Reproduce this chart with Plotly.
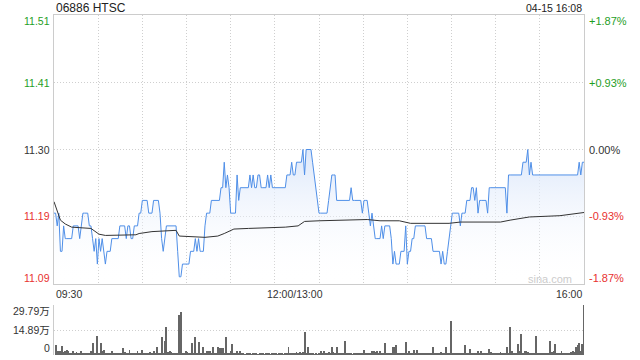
import plotly.graph_objects as go

# ---------------- data ----------------
title_text = "06886 HTSC"
stamp_text = "04-15 16:08"
prev_close = 11.30

# one price per trading minute (0 = 09:30, 150 = 12:00/13:00, 330 = 16:00)
price = [
    11.20, 11.20, 11.18, 11.20, 11.14, 11.14, 11.18, 11.16, 11.16, 11.16,
    11.16, 11.16, 11.18, 11.18, 11.18, 11.18, 11.16, 11.18, 11.20, 11.20,
    11.20, 11.20, 11.18, 11.18, 11.16, 11.14, 11.16, 11.12, 11.16, 11.14,
    11.16, 11.14, 11.12, 11.14, 11.14, 11.14, 11.16, 11.16, 11.16, 11.16,
    11.16, 11.18, 11.18, 11.18, 11.18, 11.16, 11.18, 11.18, 11.16, 11.16,
    11.18, 11.18, 11.18, 11.20, 11.20, 11.22, 11.22, 11.22, 11.22, 11.20,
    11.20, 11.20, 11.22, 11.22, 11.22, 11.22, 11.20, 11.16, 11.14, 11.16,
    11.18, 11.18, 11.18, 11.18, 11.18, 11.18, 11.18, 11.14, 11.10, 11.10,
    11.12, 11.12, 11.12, 11.12, 11.12, 11.14, 11.14, 11.14, 11.16, 11.14,
    11.16, 11.14, 11.14, 11.14, 11.18, 11.20, 11.20, 11.20, 11.22, 11.22,
    11.22, 11.22, 11.22, 11.22, 11.24, 11.24, 11.28, 11.24, 11.26, 11.24,
    11.20, 11.20, 11.20, 11.20, 11.26, 11.22, 11.24, 11.24, 11.24, 11.24,
    11.24, 11.24, 11.26, 11.24, 11.26, 11.24, 11.24, 11.26, 11.26, 11.24,
    11.24, 11.24, 11.24, 11.26, 11.24, 11.26, 11.24, 11.24, 11.24, 11.24,
    11.24, 11.24, 11.24, 11.24, 11.24, 11.26, 11.26, 11.26, 11.28, 11.26,
    11.26, 11.28, 11.28, 11.28, 11.28, 11.30, 11.26, 11.30, 11.30, 11.30,
    11.30, 11.28, 11.26, 11.24, 11.22, 11.20, 11.20, 11.20, 11.20, 11.20,
    11.20, 11.22, 11.24, 11.26, 11.26, 11.26, 11.22, 11.22, 11.22, 11.22,
    11.22, 11.22, 11.22, 11.22, 11.22, 11.24, 11.22, 11.22, 11.22, 11.22,
    11.22, 11.22, 11.20, 11.22, 11.22, 11.22, 11.20, 11.18, 11.20, 11.18,
    11.16, 11.16, 11.16, 11.16, 11.18, 11.16, 11.18, 11.18, 11.18, 11.18,
    11.16, 11.12, 11.14, 11.12, 11.12, 11.12, 11.14, 11.14, 11.14, 11.18,
    11.12, 11.14, 11.14, 11.16, 11.16, 11.18, 11.18, 11.18, 11.18, 11.18,
    11.18, 11.18, 11.16, 11.16, 11.16, 11.16, 11.14, 11.14, 11.14, 11.14,
    11.14, 11.12, 11.14, 11.12, 11.12, 11.14, 11.16, 11.18, 11.20, 11.20,
    11.20, 11.20, 11.20, 11.18, 11.20, 11.20, 11.20, 11.22, 11.22, 11.22,
    11.24, 11.24, 11.22, 11.24, 11.20, 11.22, 11.22, 11.22, 11.22, 11.22,
    11.20, 11.24, 11.24, 11.24, 11.24, 11.24, 11.24, 11.24, 11.24, 11.24,
    11.24, 11.24, 11.20, 11.26, 11.26, 11.26, 11.26, 11.26, 11.26, 11.26,
    11.26, 11.26, 11.28, 11.28, 11.28, 11.30, 11.26, 11.28, 11.26, 11.26,
    11.26, 11.26, 11.26, 11.26, 11.26, 11.26, 11.26, 11.26, 11.26, 11.26,
    11.26, 11.26, 11.26, 11.26, 11.26, 11.26, 11.26, 11.26, 11.26, 11.26,
    11.26, 11.26, 11.26, 11.26, 11.26, 11.26, 11.26, 11.28, 11.26, 11.28,
    11.28,
]

# average-price line, read at its turning points (minute, price)
avg_minute = [0, 2, 4, 7, 11, 23, 28, 32, 40, 51, 53, 61, 76, 78, 94, 102, 106,
              112, 121, 144, 152, 156, 165, 195, 203, 215, 222, 246, 253, 278,
              284, 296, 315, 330]
avg_price = [11.218, 11.204, 11.189, 11.183, 11.178, 11.176, 11.167, 11.165,
             11.165, 11.166, 11.168, 11.171, 11.173, 11.164, 11.162, 11.164,
             11.168, 11.175, 11.176, 11.178, 11.180, 11.187, 11.188, 11.190,
             11.188, 11.188, 11.184, 11.184, 11.186, 11.186, 11.189, 11.194,
             11.196, 11.201]

# volume per minute, in 万 shares
volume = [
    0, 6.2, 2.6, 2.6, 2.6, 5.6, 1.6, 2.6, 3.2, 2.2,
    0.8, 1.0, 2.6, 0.8, 1.6, 0.6, 0.8, 2.2, 0.6, 1.0,
    0.6, 0.6, 0.6, 2.6, 7.0, 1.0, 0.6, 11.1, 1.0, 7.0,
    2.6, 3.2, 0.8, 1.0, 0.6, 0.6, 2.6, 0.8, 0.6, 1.0,
    0.8, 0.6, 0.6, 4.2, 1.6, 0.6, 0.6, 3.2, 1.2, 0.6,
    0.6, 0.6, 2.2, 1.2, 0.6, 3.2, 0.8, 0.6, 0.6, 0.8,
    1.6, 0.6, 2.6, 0.6, 5.0, 0.8, 0.6, 10.6, 1.2, 8.3,
    16.7, 1.6, 2.2, 1.6, 0.8, 0.6, 0.6, 0.6, 23.7, 25.4,
    0.6, 0.6, 2.6, 1.6, 1.2, 0.6, 7.0, 0.8, 10.6, 1.2,
    7.6, 1.2, 0.8, 5.0, 0.6, 2.2, 2.2, 2.2, 0.8, 5.0,
    1.0, 0.8, 4.6, 4.0, 4.0, 4.0, 0.8, 10.6, 1.2, 0.6,
    2.6, 6.4, 0.6, 0.6, 2.6, 0.8, 2.6, 0.8, 0.6, 0.5,
    0.7, 0.6, 0.9, 0.5, 0.6, 0.8, 0.6, 0.5, 0.7, 0.6,
    0.8, 0.5, 0.6, 0.9, 0.6, 0.5, 0.7, 0.6, 0.8, 0.5,
    0.6, 0.7, 0.6, 0.5, 0.8, 0.6, 4.6, 0.6, 0.6, 0.8,
    0.6, 1.6, 1.2, 1.6, 1.2, 2.0, 13.7, 1.2, 4.6, 0.6,
    0.6, 0.6, 0.5, 0.6, 0.5, 0.8, 2.6, 0.6, 2.2, 0.6,
    0.6, 1.6, 0.6, 5.0, 1.6, 0.6, 4.6, 1.2, 0.6, 0.6,
    0.6, 8.3, 0.6, 0.8, 0.6, 0.6, 0.5, 0.8, 0.6, 1.0,
    1.2, 0.6, 0.8, 3.2, 0.8, 0.6, 1.2, 0.6, 2.2, 2.6,
    1.6, 2.6, 0.6, 2.6, 0.8, 0.6, 7.0, 1.2, 0.8, 0.6,
    1.2, 4.6, 5.0, 6.2, 0.8, 0.8, 0.6, 0.6, 0.6, 7.6,
    0.6, 2.6, 0.6, 0.6, 3.2, 0.6, 2.8, 0.6, 0.8, 0.6,
    1.2, 0.6, 0.6, 0.6, 0.6, 0.6, 4.6, 0.8, 0.6, 0.6,
    0.6, 1.6, 0.6, 0.6, 5.0, 0.6, 0.6, 20.0, 1.2, 0.8,
    1.2, 0.6, 0.8, 0.6, 0.6, 0.6, 6.2, 0.8, 0.6, 3.6,
    1.2, 0.8, 0.6, 0.6, 2.2, 0.8, 2.2, 0.6, 0.8, 0.6,
    0.6, 3.6, 1.6, 0.8, 1.0, 0.6, 0.6, 0.6, 1.6, 0.8,
    0.6, 1.2, 4.6, 0.6, 16.7, 2.2, 1.2, 0.8, 0.6, 6.4,
    2.6, 12.5, 1.2, 2.6, 2.6, 2.0, 0.8, 0.6, 0.6, 1.2,
    11.1, 0.6, 0.6, 0.6, 0.6, 0.8, 0.6, 0.6, 0.6, 8.3,
    1.6, 2.2, 6.4, 0.8, 0.6, 0.6, 2.2, 0.6, 0.8, 1.2,
    0.6, 0.6, 1.6, 2.6, 1.6, 4.6, 6.2, 7.0, 2.6, 6.4,
    29.79,
]

# axis labels
pct_levels = [1.87, 0.93, 0.0, -0.93, -1.87]
price_tick_labels = ["11.51", "11.41", "11.30", "11.19", "11.09"]
pct_tick_labels = ["+1.87%", "+0.93%", "0.00%", "-0.93%", "-1.87%"]
vol_tick_values = [29.79, 14.89, 0]
vol_tick_labels = ["29.79万", "14.89万", "0"]
time_tick_minutes = [0, 150, 330]
time_tick_labels = ["09:30", "12:00/13:00", "16:00"]
session_minutes = 330

# ---------------- figure ----------------
FONT = "Liberation Sans, Arial, Noto Sans CJK SC, sans-serif"
GREEN = "#1f9e1f"
RED = "#e8312f"
DARK = "#333333"
GRID = "#cfcfcf"

minutes = list(range(len(price)))
lvl_prices = [prev_close * (1 + p / 100) for p in pct_levels]
y_lo, y_hi = min(lvl_prices), max(lvl_prices)

fig = go.Figure()
fig.add_trace(go.Scatter(
    x=minutes, y=price, mode="lines", xaxis="x", yaxis="y",
    line=dict(color="#4f8fe8", width=1),
    fill="tozeroy",
    fillgradient=dict(type="vertical",
                      colorscale=[[0, "rgba(255,255,255,0)"], [1, "rgba(218,230,250,0.95)"]],
                      start=y_lo, stop=prev_close),
    hoverinfo="skip", showlegend=False,
))
fig.add_trace(go.Scatter(
    x=avg_minute, y=avg_price, mode="lines", xaxis="x", yaxis="y",
    line=dict(color="#333333", width=1), hoverinfo="skip", showlegend=False,
))
fig.add_trace(go.Bar(
    x=minutes, y=volume, xaxis="x2", yaxis="y2", width=0.6,
    marker=dict(color="#666666", line=dict(width=0)),
    hoverinfo="skip", showlegend=False,
))

H, T, B = 360, 15, 5
plot_h = H - T - B
main_bottom_px, vol_top_px = 284, 305
main_dom = [(H - B - main_bottom_px) / plot_h, 1]
vol_dom = [0, (H - B - vol_top_px) / plot_h]

fig.update_layout(
    width=640, height=360,
    margin=dict(l=54, r=56, t=T, b=B),
    paper_bgcolor="white", plot_bgcolor="white",
    font=dict(family=FONT, size=11, color=DARK),
    bargap=0,
    hovermode=False,
    xaxis=dict(domain=[0, 1], range=[0, session_minutes], anchor="y",
               tick0=0, dtick=session_minutes / 12, showticklabels=False, ticks="",
               showgrid=True, gridcolor=GRID, griddash="1px,2px", gridwidth=1,
               showline=True, linecolor="#cccccc", linewidth=1, mirror=True,
               zeroline=False, fixedrange=True),
    yaxis=dict(domain=main_dom, range=[y_lo, y_hi], anchor="x",
               tickvals=lvl_prices[1:4], showticklabels=False, ticks="",
               showgrid=True, gridcolor=GRID, griddash="1px,2px", gridwidth=1,
               showline=True, linecolor="#cccccc", linewidth=1, mirror=True,
               zeroline=False, fixedrange=True),
    xaxis2=dict(domain=[0, 1], range=[0, session_minutes], anchor="y2",
                showticklabels=False, ticks="", showgrid=False, zeroline=False,
                showline=False, fixedrange=True),
    yaxis2=dict(domain=vol_dom, range=[0, max(vol_tick_values)], anchor="x2",
                tickvals=vol_tick_values, showticklabels=False, ticks="",
                showgrid=True, gridcolor=GRID, griddash="1px,2px", gridwidth=1,
                showline=True, linecolor="#cccccc", linewidth=1, zeroline=False,
                fixedrange=True),
)

ann = []
n = len(pct_levels)
for i, (yv, lab, plab, pct) in enumerate(zip(lvl_prices, price_tick_labels, pct_tick_labels, pct_levels)):
    col = GREEN if pct > 0 else (RED if pct < 0 else DARK)
    shift = -6 if i == 0 else (6 if i == n - 1 else 0)
    ann.append(dict(xref="paper", yref="y", x=-0.004, y=yv, text=lab, xanchor="right",
                    yanchor="middle", yshift=shift, showarrow=False,
                    font=dict(size=10.5, color=col)))
    ann.append(dict(xref="paper", yref="y", x=1.006, y=yv, text=plab, xanchor="left",
                    yanchor="middle", yshift=shift, showarrow=False,
                    font=dict(size=11, color=col)))

for i, (vv, lab) in enumerate(zip(vol_tick_values, vol_tick_labels)):
    shift = -6 if i == 0 else (7 if i == len(vol_tick_values) - 1 else 0)
    ann.append(dict(xref="paper", yref="y2", x=-0.004, y=vv, text=lab, xanchor="right",
                    yanchor="middle", yshift=shift, showarrow=False,
                    font=dict(size=10.5, color=DARK)))

anchors = ["left", "center", "right"]
for m, lab, xa in zip(time_tick_minutes, time_tick_labels, anchors):
    ann.append(dict(xref="x", yref="paper", x=m, y=(H - B - 293.5) / plot_h, text=lab,
                    xanchor=xa, yanchor="middle", showarrow=False,
                    font=dict(size=10.5, color=DARK)))

ann.append(dict(xref="paper", yref="paper", x=0, y=(H - B - 7.5) / plot_h, text=title_text,
                xanchor="left", yanchor="middle", showarrow=False,
                font=dict(size=12, color="#222222")))
ann.append(dict(xref="paper", yref="paper", x=1, y=(H - B - 7.5) / plot_h, text=stamp_text,
                xanchor="right", yanchor="middle", showarrow=False,
                font=dict(size=10.5, color="#222222")))
ann.append(dict(xref="paper", yref="paper", x=0.982, y=(H - B - 279) / plot_h, text="sina.com",
                xanchor="right", yanchor="middle", showarrow=False,
                font=dict(size=11, color="#cccccc")))

fig.update_layout(annotations=ann)
fig.write_html("out.html", config={"displayModeBar": False},
               post_script="document.body.style.margin='0px';")
